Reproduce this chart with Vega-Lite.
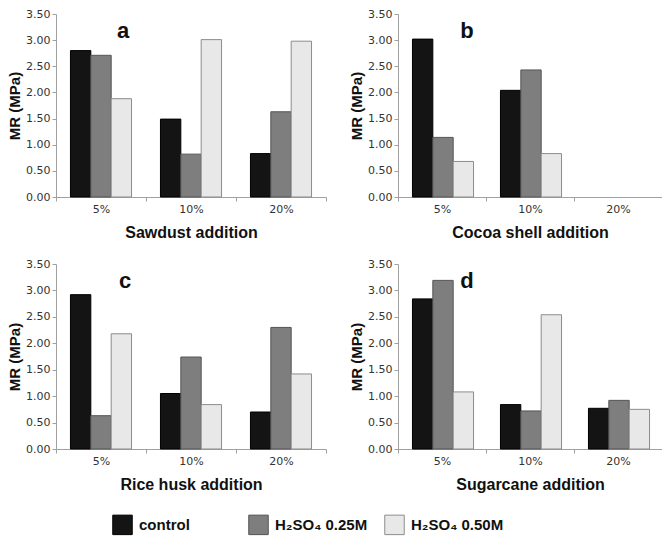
{
  "$schema": "https://vega.github.io/schema/vega-lite/v6.json",
  "padding": {"left": 7, "top": 8, "right": 0, "bottom": 0},
  "background": "white",
  "config": {
    "view": {"stroke": null},
    "axis": {
      "grid": false,
      "labelFont": "DejaVu Sans",
      "labelFontSize": 11,
      "labelColor": "#333333",
      "domainColor": "#a0a0a0",
      "tickColor": "#a0a0a0",
      "tickSize": 4,
      "titleFont": "Liberation Sans",
      "titleFontWeight": "bold",
      "titleColor": "#111111"
    },
    "axisX": {"labelAngle": 0, "tickBand": "extent", "labelPadding": 2, "titleFontSize": 16, "titlePadding": 10},
    "axisY": {"titleFontSize": 15, "labelPadding": 2, "titlePadding": 3, "values": [0, 0.5, 1, 1.5, 2, 2.5, 3, 3.5], "format": ".2f"},
    "legend": {
      "orient": "none",
      "legendX": 56,
      "legendY": 500,
      "direction": "horizontal",
      "title": null,
      "symbolType": "square",
      "symbolSize": 380,
      "symbolStrokeWidth": 1,
      "labelFont": "Liberation Sans",
      "labelFontWeight": "bold",
      "labelFontSize": 15,
      "labelColor": "#111111",
      "labelOffset": 6,
      "gridAlign": "all",
      "columnPadding": 14
    },
    "text": {"font": "Liberation Sans", "fontWeight": "bold", "fontSize": 22, "color": "#111111"}
  },
  "datasets": {
    "a": [
      {"addition": "5%", "treatment": "control", "MR": 2.80},
      {"addition": "5%", "treatment": "H₂SO₄ 0.25M", "MR": 2.71},
      {"addition": "5%", "treatment": "H₂SO₄ 0.50M", "MR": 1.88},
      {"addition": "10%", "treatment": "control", "MR": 1.49},
      {"addition": "10%", "treatment": "H₂SO₄ 0.25M", "MR": 0.82},
      {"addition": "10%", "treatment": "H₂SO₄ 0.50M", "MR": 3.01},
      {"addition": "20%", "treatment": "control", "MR": 0.83},
      {"addition": "20%", "treatment": "H₂SO₄ 0.25M", "MR": 1.63},
      {"addition": "20%", "treatment": "H₂SO₄ 0.50M", "MR": 2.98}
    ],
    "b": [
      {"addition": "5%", "treatment": "control", "MR": 3.02},
      {"addition": "5%", "treatment": "H₂SO₄ 0.25M", "MR": 1.14},
      {"addition": "5%", "treatment": "H₂SO₄ 0.50M", "MR": 0.68},
      {"addition": "10%", "treatment": "control", "MR": 2.04},
      {"addition": "10%", "treatment": "H₂SO₄ 0.25M", "MR": 2.43},
      {"addition": "10%", "treatment": "H₂SO₄ 0.50M", "MR": 0.83}
    ],
    "c": [
      {"addition": "5%", "treatment": "control", "MR": 2.92},
      {"addition": "5%", "treatment": "H₂SO₄ 0.25M", "MR": 0.63},
      {"addition": "5%", "treatment": "H₂SO₄ 0.50M", "MR": 2.18},
      {"addition": "10%", "treatment": "control", "MR": 1.05},
      {"addition": "10%", "treatment": "H₂SO₄ 0.25M", "MR": 1.74},
      {"addition": "10%", "treatment": "H₂SO₄ 0.50M", "MR": 0.84},
      {"addition": "20%", "treatment": "control", "MR": 0.70},
      {"addition": "20%", "treatment": "H₂SO₄ 0.25M", "MR": 2.30},
      {"addition": "20%", "treatment": "H₂SO₄ 0.50M", "MR": 1.42}
    ],
    "d": [
      {"addition": "5%", "treatment": "control", "MR": 2.84},
      {"addition": "5%", "treatment": "H₂SO₄ 0.25M", "MR": 3.19},
      {"addition": "5%", "treatment": "H₂SO₄ 0.50M", "MR": 1.08},
      {"addition": "10%", "treatment": "control", "MR": 0.84},
      {"addition": "10%", "treatment": "H₂SO₄ 0.25M", "MR": 0.72},
      {"addition": "10%", "treatment": "H₂SO₄ 0.50M", "MR": 2.54},
      {"addition": "20%", "treatment": "control", "MR": 0.77},
      {"addition": "20%", "treatment": "H₂SO₄ 0.25M", "MR": 0.92},
      {"addition": "20%", "treatment": "H₂SO₄ 0.50M", "MR": 0.75}
    ],
    "labels": [
      {"panel": "a", "addition": "5%", "MR": 3.17},
      {"panel": "b", "addition": "5%", "MR": 3.17},
      {"panel": "c", "addition": "5%", "MR": 3.17},
      {"panel": "d", "addition": "5%", "MR": 3.17}
    ]
  },
  "resolve": {"scale": {"fill": "shared", "stroke": "shared"}},
  "spacing": 18,
  "vconcat": [
    {
      "spacing": 22,
      "hconcat": [
        {
          "width": 270, "height": 183,
          "layer": [
            {
              "data": {"name": "a"},
              "mark": {"type": "bar", "strokeWidth": 1},
              "encoding": {
                "x": {"field": "addition", "type": "nominal", "scale": {"domain": ["5%", "10%", "20%"], "paddingInner": 0, "paddingOuter": 0}, "axis": {"title": "Sawdust addition"}},
                "xOffset": {"field": "treatment", "type": "nominal", "scale": {"domain": ["control", "H₂SO₄ 0.25M", "H₂SO₄ 0.50M"], "paddingInner": 0, "paddingOuter": 0.71}},
                "y": {"field": "MR", "type": "quantitative", "scale": {"domain": [0, 3.5]}, "axis": {"title": "MR (MPa)"}},
                "fill": {"field": "treatment", "type": "nominal", "scale": {"domain": ["control", "H₂SO₄ 0.25M", "H₂SO₄ 0.50M"], "range": ["#141414", "#7e7e7e", "#e8e8e8"]}},
                "stroke": {"field": "treatment", "type": "nominal", "scale": {"domain": ["control", "H₂SO₄ 0.25M", "H₂SO₄ 0.50M"], "range": ["#000000", "#555555", "#8c8c8c"]}}
              }
            },
            {
              "data": {"name": "labels"},
              "transform": [{"filter": "datum.panel == 'a'"}],
              "mark": {"type": "text", "dx": 22},
              "encoding": {
                "x": {"field": "addition", "type": "nominal"},
                "y": {"field": "MR", "type": "quantitative"},
                "text": {"field": "panel"}
              }
            }
          ]
        },
        {
          "width": 264, "height": 183,
          "layer": [
            {
              "data": {"name": "b"},
              "mark": {"type": "bar", "strokeWidth": 1},
              "encoding": {
                "x": {"field": "addition", "type": "nominal", "scale": {"domain": ["5%", "10%", "20%"], "paddingInner": 0, "paddingOuter": 0}, "axis": {"title": "Cocoa shell addition"}},
                "xOffset": {"field": "treatment", "type": "nominal", "scale": {"domain": ["control", "H₂SO₄ 0.25M", "H₂SO₄ 0.50M"], "paddingInner": 0, "paddingOuter": 0.71}},
                "y": {"field": "MR", "type": "quantitative", "scale": {"domain": [0, 3.5]}, "axis": {"title": "MR (MPa)"}},
                "fill": {"field": "treatment", "type": "nominal", "scale": {"domain": ["control", "H₂SO₄ 0.25M", "H₂SO₄ 0.50M"], "range": ["#141414", "#7e7e7e", "#e8e8e8"]}},
                "stroke": {"field": "treatment", "type": "nominal", "scale": {"domain": ["control", "H₂SO₄ 0.25M", "H₂SO₄ 0.50M"], "range": ["#000000", "#555555", "#8c8c8c"]}}
              }
            },
            {
              "data": {"name": "labels"},
              "transform": [{"filter": "datum.panel == 'b'"}],
              "mark": {"type": "text", "dx": 25},
              "encoding": {
                "x": {"field": "addition", "type": "nominal"},
                "y": {"field": "MR", "type": "quantitative"},
                "text": {"field": "panel"}
              }
            }
          ]
        }
      ]
    },
    {
      "spacing": 22,
      "hconcat": [
        {
          "width": 270, "height": 185,
          "layer": [
            {
              "data": {"name": "c"},
              "mark": {"type": "bar", "strokeWidth": 1},
              "encoding": {
                "x": {"field": "addition", "type": "nominal", "scale": {"domain": ["5%", "10%", "20%"], "paddingInner": 0, "paddingOuter": 0}, "axis": {"title": "Rice husk addition"}},
                "xOffset": {"field": "treatment", "type": "nominal", "scale": {"domain": ["control", "H₂SO₄ 0.25M", "H₂SO₄ 0.50M"], "paddingInner": 0, "paddingOuter": 0.71}},
                "y": {"field": "MR", "type": "quantitative", "scale": {"domain": [0, 3.5]}, "axis": {"title": "MR (MPa)"}},
                "fill": {"field": "treatment", "type": "nominal", "scale": {"domain": ["control", "H₂SO₄ 0.25M", "H₂SO₄ 0.50M"], "range": ["#141414", "#7e7e7e", "#e8e8e8"]}},
                "stroke": {"field": "treatment", "type": "nominal", "scale": {"domain": ["control", "H₂SO₄ 0.25M", "H₂SO₄ 0.50M"], "range": ["#000000", "#555555", "#8c8c8c"]}}
              }
            },
            {
              "data": {"name": "labels"},
              "transform": [{"filter": "datum.panel == 'c'"}],
              "mark": {"type": "text", "dx": 24},
              "encoding": {
                "x": {"field": "addition", "type": "nominal"},
                "y": {"field": "MR", "type": "quantitative"},
                "text": {"field": "panel"}
              }
            }
          ]
        },
        {
          "width": 264, "height": 185,
          "layer": [
            {
              "data": {"name": "d"},
              "mark": {"type": "bar", "strokeWidth": 1},
              "encoding": {
                "x": {"field": "addition", "type": "nominal", "scale": {"domain": ["5%", "10%", "20%"], "paddingInner": 0, "paddingOuter": 0}, "axis": {"title": "Sugarcane addition"}},
                "xOffset": {"field": "treatment", "type": "nominal", "scale": {"domain": ["control", "H₂SO₄ 0.25M", "H₂SO₄ 0.50M"], "paddingInner": 0, "paddingOuter": 0.71}},
                "y": {"field": "MR", "type": "quantitative", "scale": {"domain": [0, 3.5]}, "axis": {"title": "MR (MPa)"}},
                "fill": {"field": "treatment", "type": "nominal", "scale": {"domain": ["control", "H₂SO₄ 0.25M", "H₂SO₄ 0.50M"], "range": ["#141414", "#7e7e7e", "#e8e8e8"]}},
                "stroke": {"field": "treatment", "type": "nominal", "scale": {"domain": ["control", "H₂SO₄ 0.25M", "H₂SO₄ 0.50M"], "range": ["#000000", "#555555", "#8c8c8c"]}}
              }
            },
            {
              "data": {"name": "labels"},
              "transform": [{"filter": "datum.panel == 'd'"}],
              "mark": {"type": "text", "dx": 25},
              "encoding": {
                "x": {"field": "addition", "type": "nominal"},
                "y": {"field": "MR", "type": "quantitative"},
                "text": {"field": "panel"}
              }
            }
          ]
        }
      ]
    }
  ]
}
